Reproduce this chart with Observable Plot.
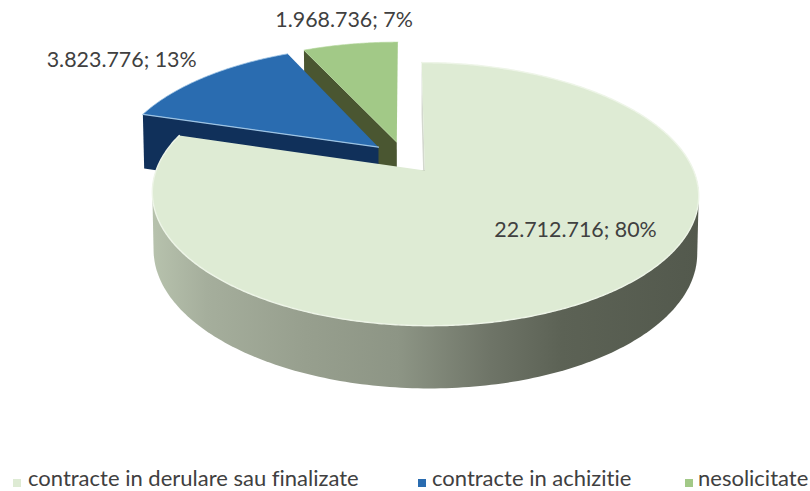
<!DOCTYPE html>
<html>
<head>
<meta charset="utf-8">
<script src="https://cdn.jsdelivr.net/npm/d3@7"></script>
<script src="https://cdn.jsdelivr.net/npm/@observablehq/plot@0.6"></script>
<style>
html,body{margin:0;padding:0;background:#fff;}
#chart{position:relative;width:810px;height:491px;overflow:hidden;font-family:Lato,sans-serif;font-variant-ligatures:none;}
#chart svg{display:block;}
.legend{position:relative;height:29px;color:#404040;font-size:22px;line-height:26px;}
.legend span.t{position:absolute;top:2.5px;white-space:nowrap;}
.legend i{position:absolute;top:17px;width:8px;height:8px;display:block;}
</style>
</head>
<body>
<div id="chart"></div>
<script>
// Data
const categories = ["contracte in derulare sau finalizate", "contracte in achizitie", "nesolicitate"];
const values = [22712716, 3823776, 1968736];
const percents = ["80%", "13%", "7%"];
const valueLabels = ["22.712.716", "3.823.776", "1.968.736"];

// Style
const topColors = ["#deebd4", "#2a6cb0", "#a2c987"];
const wallColors = ["#d3d8ce", "#10305a", "#4a5631"];
const rimColors = ["#eef5e8", "#9cc3e4", "#b4d69c"];
const legendLeft = [[13, 28], [418, 432], [685, 698]];

// Layout of the perspective disc
const W = 810, H = 462;
const view = {x0: 403.5, y0: 157, w: 263.8, h: 122.7, k: 0.176};
const floor = {y0: 213, sx: 0.995, sy: 1.04};
const explode = 0.13;
const labelPolar = [[130, 0.668], [306, 1.415], [348.6, 1.288]];

const rad = Math.PI / 180;
function project(u, v, bottom = false) {
  const d = 1 + view.k * v;
  const px = view.w * u / d, py = view.h * v / d;
  return bottom
    ? {x: view.x0 + floor.sx * px, y: floor.y0 - floor.sy * py}
    : {x: view.x0 + px, y: view.y0 - py};
}

const arcs = d3.pie().sort(null)(values);
const slices = arcs.map((a, i) => {
  const mid = (a.startAngle + a.endAngle) / 2;
  return {i, start: a.startAngle, end: a.endAngle, cu: explode * Math.sin(mid), cv: explode * Math.cos(mid)};
});
const rimPoint = (s, t, bottom) => project(s.cu + Math.sin(t), s.cv + Math.cos(t), bottom);
const apex = (s, bottom) => project(s.cu, s.cv, bottom);
function arcPoints(s, bottom = false) {
  const n = Math.max(2, Math.ceil((s.end - s.start) / (0.5 * rad)));
  return d3.range(n + 1).map((j) => rimPoint(s, s.start + (s.end - s.start) * j / n, bottom));
}
const shape = (pts, o) => Plot.line(pts, {x: "x", y: "y", curve: "linear", strokeLinejoin: "round", ...o});

const [big, blue, green] = slices;
const radialWall = (s, t) => [apex(s), rimPoint(s, t), rimPoint(s, t, true), apex(s, true)];
// outline of the rim's visible front half: the hull of its top and bottom edges
const frontBand = (s) => {
  const pts = d3.range(90, 271).flatMap((deg) => [rimPoint(s, deg * rad), rimPoint(s, deg * rad, true)]);
  return d3.polygonHull(pts.map((p) => [p.x, p.y])).map(([x, y]) => ({x, y}));
};

const marks = [
  // side-shading gradient of the main slice
  () => {
    const ns = "http://www.w3.org/2000/svg";
    const defs = document.createElementNS(ns, "defs");
    const g = document.createElementNS(ns, "linearGradient");
    g.setAttribute("id", "sideShade");
    [[0, "#b7c2ad"], [0.1, "#a5ae9c"], [0.28, "#979f8e"], [0.45, "#8d9585"], [0.62, "#6e7467"], [0.75, "#5c6255"], [1, "#53594d"]].forEach(([o, c]) => {
      const st = document.createElementNS(ns, "stop");
      st.setAttribute("offset", o);
      st.setAttribute("stop-color", c);
      g.appendChild(st);
    });
    defs.appendChild(g);
    return defs;
  },
  // green slice
  shape(radialWall(green, green.start), {fill: wallColors[2]}),
  shape([apex(green), ...arcPoints(green)], {fill: topColors[2], stroke: rimColors[2], strokeWidth: 0.6}),
  // blue slice
  shape(radialWall(blue, blue.start), {fill: wallColors[1]}),
  shape([apex(blue), ...arcPoints(blue)], {fill: topColors[1]}),
  shape([apex(blue), rimPoint(blue, blue.start)], {stroke: rimColors[1], strokeWidth: 1.2}),
  shape(arcPoints(blue), {stroke: rimColors[1], strokeWidth: 0.8}),
  // main slice
  shape(radialWall(big, big.start), {fill: wallColors[0]}),
  shape(frontBand(big), {fill: "url(#sideShade)"}),
  shape([apex(big), ...arcPoints(big)], {fill: topColors[0]}),
  shape(arcPoints(big), {stroke: rimColors[0], strokeWidth: 1.4}),
  // data labels
  Plot.text(slices, {
    x: (s) => project(s.cu + labelPolar[s.i][1] * Math.sin(labelPolar[s.i][0] * rad), s.cv + labelPolar[s.i][1] * Math.cos(labelPolar[s.i][0] * rad)).x,
    y: (s) => project(s.cu + labelPolar[s.i][1] * Math.sin(labelPolar[s.i][0] * rad), s.cv + labelPolar[s.i][1] * Math.cos(labelPolar[s.i][0] * rad)).y,
    text: (s) => `${valueLabels[s.i]}; ${percents[s.i]}`,
    fill: "#404040",
    fontSize: 21.4,
    fontFamily: "Lato, sans-serif",
    textAnchor: "middle"
  })
];

const plot = Plot.plot({
  width: W, height: H,
  margin: 0,
  x: {domain: [0, W], range: [0, W], axis: null},
  y: {domain: [0, H], range: [0, H], axis: null},
  marks
});
const root = document.getElementById("chart");
root.appendChild(plot);

const legend = document.createElement("div");
legend.className = "legend";
categories.forEach((c, i) => {
  const sw = document.createElement("i");
  sw.style.left = legendLeft[i][0] + "px";
  sw.style.background = topColors[i];
  const t = document.createElement("span");
  t.className = "t";
  t.style.left = legendLeft[i][1] + "px";
  t.textContent = c;
  legend.append(sw, t);
});
root.appendChild(legend);
</script>
</body>
</html>
